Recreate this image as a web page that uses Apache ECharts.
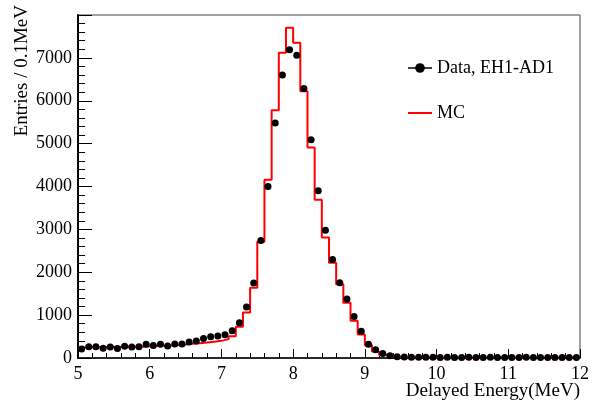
<!DOCTYPE html>
<html>
<head>
<meta charset="utf-8">
<script src="https://cdn.jsdelivr.net/npm/echarts@6/dist/echarts.min.js"></script>
<style>
    html, body { margin: 0; padding: 0; background: #fff; }
    #container { width: 592px; height: 402px; }
</style>
</head>
<body>
<div id="container"></div>
<script>
// histogram binning: 5 - 12 MeV, 0.1 MeV per bin
var binStart = 5.0;
var binWidth = 0.1;

// data points (Data, EH1-AD1), one per bin
var dataCounts = [
    210, 265, 262, 228, 255, 220, 272, 258, 265, 318,
    290, 318, 280, 328, 328, 372, 398, 452, 498, 512,
    540, 637, 824, 1188, 1750, 2740, 4000, 5480, 6600, 7190,
    7060, 6285, 5090, 3900, 2980, 2295, 1758, 1378, 968, 625,
    322, 195, 105, 52, 32, 24, 20, 18, 16, 15,
    14, 15, 13, 14, 15, 13, 14, 15, 14, 13,
    14, 13, 15, 14, 13, 14, 13, 14, 13, 14
];

// MC histogram, one per bin
var mcCounts = [
    245, 250, 252, 255, 255, 258, 260, 262, 265, 272,
    280, 285, 292, 305, 315, 330, 345, 360, 380, 400,
    440, 510, 730, 1060, 1640, 2710, 4160, 5780, 7120, 7700,
    7350, 6220, 4910, 3690, 2810, 2220, 1720, 1290, 870, 550,
    300, 150, 72, 35, 20, 14, 11, 10, 9, 9,
    8, 8, 8, 8, 8, 8, 8, 8, 8, 8,
    8, 8, 8, 8, 8, 8, 8, 8, 8, 8
];

var seriesNames = ['Data, EH1-AD1', 'MC'];

var FONT = 'Liberation Serif';

// 数据点放在 bin 中心, MC 用阶梯线画在 bin 边上
var points = [];
var steps = [];
for (var i = 0; i < dataCounts.length; i++) {
    var lo = +(binStart + i * binWidth).toFixed(2);
    points.push([+(lo + binWidth / 2).toFixed(3), dataCounts[i]]);
    steps.push([lo, mcCounts[i]]);
}
steps.push([+(binStart + mcCounts.length * binWidth).toFixed(2), mcCounts[mcCounts.length - 1]]);

var dom = document.getElementById("container");
var myChart = echarts.init(dom);
var option = null;
option = {
    backgroundColor: '#fff',
    animation: false,
    textStyle: {fontFamily: FONT},
    grid: {
        left: 78,
        right: 12,
        top: 15,
        bottom: 44,
        outerBoundsMode: 'none',
        containLabel: false,
        show: true,
        borderColor: '#444',
        borderWidth: 1
    },
    legend: {
        orient: 'vertical',
        left: 402,
        top: 54,
        itemWidth: 24,
        itemHeight: 12,
        itemGap: 27,
        textStyle: {fontFamily: FONT, fontSize: 18, color: '#000'},
        data: [
            {name: seriesNames[0], lineStyle: {opacity: 1, width: 1.5, color: '#000'}},
            {name: seriesNames[1], itemStyle: {opacity: 0}}
        ]
    },
    xAxis: {
        type: 'value',
        min: 5,
        max: 12,
        interval: 1,
        axisLine: {lineStyle: {color: '#000', width: 1.5}},
        axisTick: {inside: true, length: 9, lineStyle: {color: '#000'}},
        minorTick: {show: true, splitNumber: 5, length: 5, lineStyle: {color: '#000'}},
        axisLabel: {fontFamily: FONT, fontSize: 18, color: '#000', margin: 7},
        splitLine: {show: false}
    },
    yAxis: {
        type: 'value',
        min: 0,
        max: 8000,
        interval: 1000,
        axisLine: {show: true, lineStyle: {color: '#000', width: 2}},
        axisTick: {inside: true, length: 14, lineStyle: {color: '#000'}},
        minorTick: {show: true, splitNumber: 5, length: 7, lineStyle: {color: '#000'}},
        axisLabel: {
            fontFamily: FONT, fontSize: 18, color: '#000', margin: 6, showMaxLabel: false,
            formatter: function (v) { return String(v); }
        },
        splitLine: {show: false}
    },
    graphic: [
        {
            // y axis title
            type: 'text',
            left: 13,
            top: 5,
            style: {
                text: 'Entries / 0.1MeV',
                fontFamily: FONT,
                fontSize: 19,
                fill: '#000'
            },
            rotation: Math.PI / 2,
            originX: 0,
            originY: 0
        },
        {
            // x axis title
            type: 'text',
            right: 12,
            top: 382,
            style: {
                text: 'Delayed Energy(MeV)',
                fontFamily: FONT,
                fontSize: 19,
                fill: '#000'
            }
        }
    ],
    series: [
        {
            name: seriesNames[1],
            type: 'line',
            step: 'end',
            data: steps,
            symbol: 'none',
            lineStyle: {color: '#ff0000', width: 2},
            itemStyle: {color: '#ff0000'},
            z: 2
        },
        {
            name: seriesNames[0],
            type: 'line',
            data: points,
            symbol: 'circle',
            symbolSize: 7,
            showSymbol: true,
            lineStyle: {opacity: 0, width: 0},
            itemStyle: {color: '#000'},
            z: 3
        }
    ]
};

if (option && typeof option === "object") {
    myChart.setOption(option, true);
}
</script>
</body>
</html>
